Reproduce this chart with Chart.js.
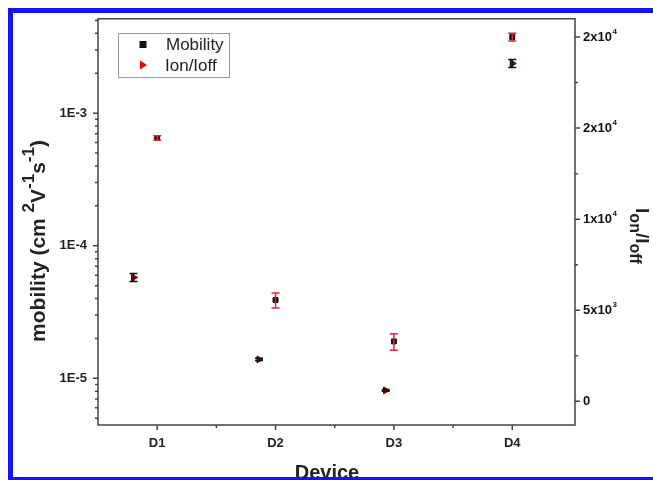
<!DOCTYPE html>
<html>
<head>
<meta charset="utf-8">
<script src="https://cdn.jsdelivr.net/npm/chart.js@4/dist/chart.umd.min.js"></script>
<style>
html, body { margin: 0; padding: 0; background: #fff; }
#wrap { position: relative; width: 653px; height: 480px; overflow: hidden; }
#frame { position: absolute; left: 8px; top: 8px; width: 720px; height: 474px; border: 5px solid #1414f0; box-sizing: border-box; pointer-events: none; }
</style>
</head>
<body>
<div id="wrap">
  <canvas id="chart" width="653" height="480" style="width:653px;height:480px"></canvas>
  <div id="frame"></div>
</div>
<script>
// Data
const deviceLabels = ['D1', 'D2', 'D3', 'D4'];
const deviceTicks = [1, 2, 3, 4];

const mobilityX = [1, 2, 3, 4];
const mobility = [6.5e-4, 3.9e-5, 1.9e-5, 3.75e-3];
const mobilityErr = [2.5e-5, 5.0e-6, 2.7e-6, 2.5e-4];

const onOffX = [0.8, 1.86, 2.93, 4.0];
const onOff = [6800, 2300, 600, 18550];
const onOffErr = [220, 60, 50, 220];

const leftTickValues = [1e-5, 1e-4, 1e-3];
const leftTickLabels = ['1E-5', '1E-4', '1E-3'];
const rightTickValues = [0, 5000, 10000, 15000, 20000];
const rightTickLabels = [['0', ''], ['5x10', '3'], ['1x10', '4'], ['2x10', '4'], ['2x10', '4']];

const FONT = '"Liberation Sans", Arial, sans-serif';

// Draw error bars, tick marks, frame, legend and axis titles
const decorPlugin = {
    id: 'decor',
    afterDatasetsDraw(chart) {
        const { ctx, scales } = chart;
        const x = scales.x;
        function bars(xs, ys, errs, yScale, color) {
            ctx.save();
            ctx.strokeStyle = color;
            ctx.lineWidth = 1.5;
            xs.forEach((xv, i) => {
                const px = x.getPixelForValue(xv);
                const top = yScale.getPixelForValue(ys[i] + errs[i]);
                const bot = yScale.getPixelForValue(ys[i] - errs[i]);
                ctx.beginPath();
                ctx.moveTo(px, top); ctx.lineTo(px, bot);
                ctx.moveTo(px - 4, top); ctx.lineTo(px + 4, top);
                ctx.moveTo(px - 4, bot); ctx.lineTo(px + 4, bot);
                ctx.stroke();
            });
            ctx.restore();
        }
        bars(mobilityX, mobility, mobilityErr, scales.y, '#e8203a');
        bars(onOffX, onOff, onOffErr, scales.y2, '#111');
    },
    afterDraw(chart) {
        const { ctx, chartArea: a, scales } = chart;
        ctx.save();
        ctx.strokeStyle = '#444';
        ctx.lineWidth = 1.5;
        ctx.strokeRect(a.left, a.top, a.right - a.left, a.bottom - a.top);

        // left log ticks
        const ly = scales.y;
        ctx.beginPath();
        for (let d = -6; d <= -2; d++) {
            for (let m = 1; m <= 9; m++) {
                const v = m * Math.pow(10, d);
                if (v < ly.min || v > ly.max) continue;
                const py = ly.getPixelForValue(v);
                ctx.moveTo(a.left, py);
                ctx.lineTo(a.left - (m === 1 ? 5 : 3), py);
            }
        }
        // right ticks
        const ry = scales.y2;
        for (let v = 0; v <= ry.max; v += 2500) {
            const py = ry.getPixelForValue(v);
            ctx.moveTo(a.right, py);
            ctx.lineTo(a.right + (v % 5000 === 0 ? 5 : 3), py);
        }
        // bottom ticks
        const sx = scales.x;
        for (let v = 1; v <= 4.01; v += 0.5) {
            const px = sx.getPixelForValue(v);
            ctx.moveTo(px, a.bottom);
            ctx.lineTo(px, a.bottom + (Number.isInteger(v) ? 5 : 3));
        }
        ctx.stroke();

        // right tick labels with superscripts
        ctx.fillStyle = '#111';
        ctx.textBaseline = 'middle';
        ctx.textAlign = 'left';
        rightTickValues.forEach((v, i) => {
            const py = ry.getPixelForValue(v);
            const [base, sup] = rightTickLabels[i];
            ctx.font = 'bold 13px ' + FONT;
            ctx.fillText(base, a.right + 8, py);
            const w = ctx.measureText(base).width;
            ctx.font = 'bold 8px ' + FONT;
            ctx.fillText(sup, a.right + 8 + w + 0.5, py - 5);
        });

        // legend
        ctx.strokeStyle = '#999';
        ctx.lineWidth = 1;
        ctx.strokeRect(118.5, 33.5, 111, 44);
        ctx.fillStyle = '#111';
        ctx.fillRect(139.5, 41, 7, 7);
        ctx.fillStyle = '#e00000';
        ctx.beginPath();
        ctx.moveTo(140, 60.5); ctx.lineTo(147, 65); ctx.lineTo(140, 69.5); ctx.closePath();
        ctx.fill();
        ctx.fillStyle = '#222';
        ctx.font = '17px ' + FONT;
        ctx.textBaseline = 'middle';
        ctx.fillText('Mobility', 166, 45);
        ctx.fillText('Ion/Ioff', 165, 66);

        // rich text helper: parts [text, shift, size]
        function rich(parts, cx, cy, angle) {
            ctx.save();
            ctx.translate(cx, cy);
            ctx.rotate(angle);
            ctx.textBaseline = 'alphabetic';
            ctx.textAlign = 'left';
            let total = 0;
            parts.forEach(p => { ctx.font = 'bold ' + p[2] + 'px ' + FONT; total += ctx.measureText(p[0]).width; });
            let xpos = -total / 2;
            parts.forEach(p => {
                ctx.font = 'bold ' + p[2] + 'px ' + FONT;
                ctx.fillText(p[0], xpos, p[1]);
                xpos += ctx.measureText(p[0]).width;
            });
            ctx.restore();
        }
        ctx.fillStyle = '#222';
        rich([['mobility (cm ', 0, 21], ['2', -11, 17], ['V', 0, 21], ['-1', -11, 17],
              ['s', 0, 21], ['-1', -11, 17], [')', 0, 21]], 45, 241, -Math.PI / 2);
        rich([['I', 0, 19], ['on', 6, 16], ['/I', 0, 19], ['off', 6, 16]], 636, 236, Math.PI / 2);

        ctx.font = 'bold 20px ' + FONT;
        ctx.textAlign = 'center';
        ctx.textBaseline = 'alphabetic';
        ctx.fillText('Device', 327, 479);
        ctx.restore();
    }
};

new Chart(document.getElementById('chart'), {
    type: 'scatter',
    data: {
        datasets: [{
            label: 'Mobility',
            data: mobilityX.map((xv, i) => ({ x: xv, y: mobility[i] })),
            yAxisID: 'y',
            pointStyle: 'rect',
            pointRadius: 3.5,
            backgroundColor: '#111',
            borderColor: '#111',
            borderWidth: 1
        }, {
            label: 'Ion/Ioff',
            data: onOffX.map((xv, i) => ({ x: xv, y: onOff[i] })),
            yAxisID: 'y2',
            pointStyle: 'triangle',
            pointRotation: 90,
            pointRadius: 4,
            backgroundColor: '#c00000',
            borderColor: '#300000',
            borderWidth: 1
        }]
    },
    options: {
        responsive: false,
        animation: false,
        events: [],
        layout: { padding: { top: 16, left: 0, right: 0, bottom: 0 } },
        plugins: {
            legend: { display: false },
            tooltip: { enabled: false }
        },
        scales: {
            x: {
                type: 'linear',
                min: 0.5,
                max: 4.53,
                grid: { display: false, drawTicks: false },
                border: { display: false },
                afterBuildTicks: s => { s.ticks = deviceTicks.map(v => ({ value: v })); },
                afterFit: s => { s.height = 55; },
                ticks: {
                    color: '#222',
                    padding: 11,
                    font: { family: FONT, size: 13, weight: 'bold' },
                    callback: (v, i) => deviceLabels[i]
                }
            },
            y: {
                type: 'logarithmic',
                position: 'left',
                min: 4.45e-6,
                max: 5.15e-3,
                grid: { display: false, drawTicks: false },
                border: { display: false },
                afterBuildTicks: s => { s.ticks = leftTickValues.map(v => ({ value: v })); },
                afterFit: s => { s.width = 98; },
                ticks: {
                    color: '#222',
                    padding: 11,
                    font: { family: FONT, size: 13, weight: 'bold' },
                    callback: (v, i) => leftTickLabels[i]
                }
            },
            y2: {
                type: 'linear',
                position: 'right',
                min: -1300,
                max: 21000,
                grid: { display: false, drawTicks: false },
                border: { display: false },
                afterFit: s => { s.width = 78; },
                ticks: { display: false }
            }
        }
    },
    plugins: [decorPlugin]
});
</script>
</body>
</html>
